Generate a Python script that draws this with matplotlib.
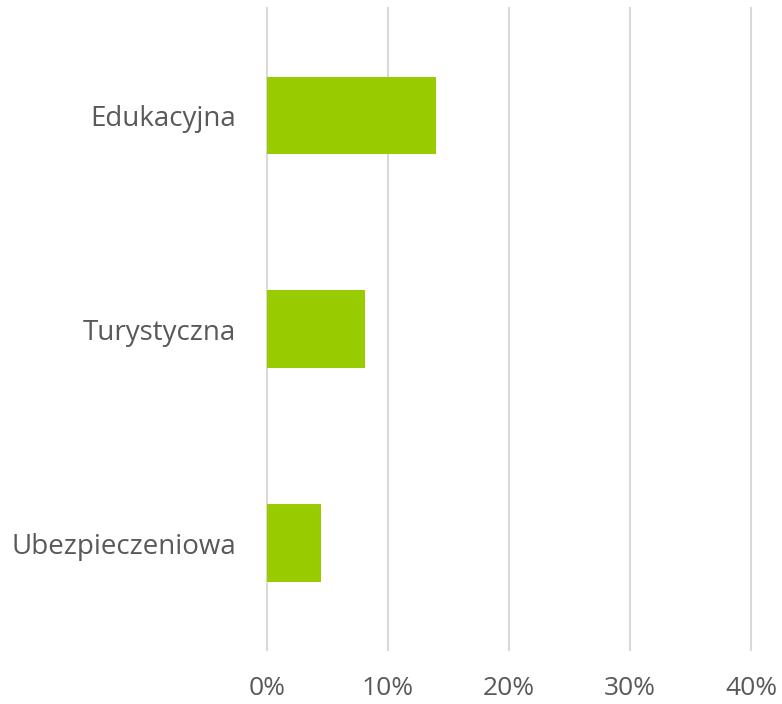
import matplotlib
matplotlib.use('Agg')
import matplotlib.pyplot as plt
from matplotlib.ticker import FuncFormatter

kategorie = ['Edukacyjna', 'Turystyczna', 'Ubezpieczeniowa']
udzial = [0.14, 0.081, 0.045]
ticki_x = [0, 0.1, 0.2, 0.3, 0.4]

plt.rcParams['font.family'] = ['Open Sans', 'DejaVu Sans']

fig = plt.figure(figsize=(7.82, 7.04), dpi=100)
ax = fig.add_axes([0.3414, 0.0767, 0.619, 0.9119])

ax.barh(range(len(kategorie)), udzial, height=0.36, color='#99CC00', zorder=3)

ax.set_xlim(0, 0.4)
ax.set_ylim(2.5, -0.5)
ax.set_xticks(ticki_x)
ax.xaxis.set_major_formatter(FuncFormatter(lambda v, p: f'{v*100:.0f}%'))
ax.set_yticks(range(len(kategorie)))
ax.set_yticklabels(kategorie)

ax.grid(True, axis='x', color='#D9D9D9', linewidth=1.5, zorder=0)
for linia in ax.get_xgridlines():
    linia.set_clip_on(False)
for s in ax.spines.values():
    s.set_visible(False)
ax.tick_params(axis='both', length=0, labelcolor='#595959')
ax.tick_params(axis='x', pad=19, labelsize=19)
ax.tick_params(axis='y', pad=22, labelsize=20)

plt.savefig('out.png', dpi=100)
plt.close()
